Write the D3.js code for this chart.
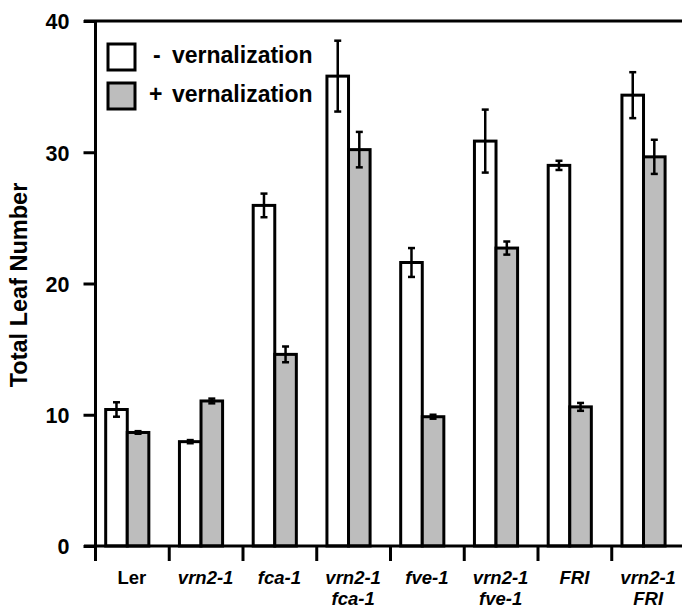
<!DOCTYPE html>
<html>
<head>
<meta charset="utf-8">
<script src="https://cdn.jsdelivr.net/npm/d3@7"></script>
<style>
  html, body { margin: 0; padding: 0; background: #fff; }
  svg { display: block; }
  text { font-family: Arial, "Liberation Sans", Helvetica, sans-serif; font-weight: bold; fill: #000; }
</style>
</head>
<body>
<svg id="chart" width="682" height="615"></svg>
<script>
// ---- data ----
const categories = ["Ler", "vrn2-1", "fca-1", "vrn2-1\nfca-1", "fve-1", "vrn2-1\nfve-1", "FRI", "vrn2-1\nFRI"];
const italicLabel = [false, true, true, true, true, true, true, true];
const minusVern = [10.4, 7.95, 25.95, 35.8, 21.6, 30.85, 29.0, 34.35];
const minusErr  = [0.55, 0.12, 0.9, 2.7, 1.1, 2.4, 0.35, 1.75];
const plusVern  = [8.65, 11.05, 14.6, 30.2, 9.85, 22.7, 10.6, 29.65];
const plusErr   = [0.1, 0.18, 0.6, 1.35, 0.15, 0.5, 0.3, 1.3];
const seriesNames = ["-  vernalization", "+ vernalization"];
const yTicks = [0, 10, 20, 30, 40];

// ---- layout ----
const W = 682, H = 615;
const axisX = 95.5, y0 = 546, yTop = 21;
const svg = d3.select("#chart");

const y = d3.scaleLinear().domain([0, 40]).range([y0, yTop]);
const x = d3.scaleBand().domain(categories).range([95, 685]).paddingInner(0).paddingOuter(0);
const bw = x.bandwidth();
const sub = d3.scaleBand().domain(["minus", "plus"]).range([bw * 0.145, bw * 0.145 + bw * 0.585]).padding(0);

const colors = { minus: "#ffffff", plus: "#bdbdbd" };

const rows = categories.map((c, i) => ({
  cat: c,
  vals: [
    { key: "minus", v: minusVern[i], e: minusErr[i] },
    { key: "plus",  v: plusVern[i],  e: plusErr[i] }
  ]
}));

// bars
const g = svg.append("g");
const groups = g.selectAll("g.grp").data(rows).join("g")
  .attr("class", "grp")
  .attr("transform", d => `translate(${x(d.cat)},0)`);

groups.selectAll("rect").data(d => d.vals).join("rect")
  .attr("x", d => sub(d.key))
  .attr("y", d => y(d.v))
  .attr("width", sub.bandwidth())
  .attr("height", d => y0 - y(d.v))
  .attr("fill", d => colors[d.key])
  .attr("stroke", "#000")
  .attr("stroke-width", 3);

// error bars
const capW = 3.5;
const eb = groups.selectAll("g.eb").data(d => d.vals).join("g").attr("class", "eb");
eb.append("line")
  .attr("x1", d => sub(d.key) + sub.bandwidth() / 2)
  .attr("x2", d => sub(d.key) + sub.bandwidth() / 2)
  .attr("y1", d => y(d.v + d.e))
  .attr("y2", d => y(d.v - d.e))
  .attr("stroke", "#000").attr("stroke-width", 2.5);
["+", "-"].forEach(s => {
  eb.append("line")
    .attr("x1", d => sub(d.key) + sub.bandwidth() / 2 - capW)
    .attr("x2", d => sub(d.key) + sub.bandwidth() / 2 + capW)
    .attr("y1", d => y(s === "+" ? d.v + d.e : d.v - d.e))
    .attr("y2", d => y(s === "+" ? d.v + d.e : d.v - d.e))
    .attr("stroke", "#000").attr("stroke-width", 2.5);
});

// top frame line
svg.append("line")
  .attr("x1", 84).attr("x2", W).attr("y1", yTop).attr("y2", yTop)
  .attr("stroke", "#000").attr("stroke-width", 3);

// y axis
const yAxis = svg.append("g").attr("transform", `translate(${axisX},0)`)
  .call(d3.axisLeft(y).tickValues(yTicks).tickSize(12).tickPadding(14).tickSizeOuter(0));
yAxis.select(".domain").attr("stroke-width", 3).attr("d", `M0,${yTop}V${y0}`);
yAxis.selectAll(".tick line").attr("stroke-width", 3);
yAxis.selectAll(".tick text")
  .style("font-size", "21.5px").style("font-weight", "bold")
  .attr("font-family", "Arial, 'Liberation Sans', sans-serif")
  .attr("dy", "0.36em");

// x axis line
svg.append("line")
  .attr("x1", 84).attr("x2", W).attr("y1", y0).attr("y2", y0)
  .attr("stroke", "#000").attr("stroke-width", 3);

// x ticks at band boundaries
svg.append("g").selectAll("line").data(categories).join("line")
  .attr("x1", d => x(d) + 0.5).attr("x2", d => x(d) + 0.5)
  .attr("y1", y0).attr("y2", y0 + 15)
  .attr("stroke", "#000").attr("stroke-width", 3);

// x labels (each line its own text)
const lblData = [];
categories.forEach((c, i) => {
  c.split("\n").forEach((p, k) => lblData.push({ c, p, k, it: italicLabel[i] }));
});
svg.append("g").selectAll("text").data(lblData).join("text")
  .attr("x", d => x(d.c) + bw / 2)
  .attr("y", d => 584 + d.k * 21)
  .attr("text-anchor", "middle")
  .style("font-size", "18.5px")
  .style("font-style", d => d.it ? "italic" : "normal")
  .text(d => d.p);

// y title
svg.append("text")
  .attr("transform", `translate(27,285) rotate(-90)`)
  .attr("text-anchor", "middle")
  .style("font-size", "23.5px")
  .text("Total Leaf Number");

// legend
const legend = svg.append("g");
const legY = [44, 83];
["minus", "plus"].forEach((k, i) => {
  legend.append("rect")
    .attr("x", 108).attr("y", legY[i]).attr("width", 27).attr("height", 26)
    .attr("fill", colors[k]).attr("stroke", "#000").attr("stroke-width", 3);
  const sign = seriesNames[i].split(" ")[0];
  const word = seriesNames[i].trim().split(/\s+/).slice(1).join(" ");
  legend.append("text").attr("x", i === 0 ? 153 : 149).attr("y", legY[i] + 19)
    .style("font-size", "23px").text(sign);
  legend.append("text").attr("x", 172).attr("y", legY[i] + 19)
    .style("font-size", "23px").text(word);
});
</script>
</body>
</html>
